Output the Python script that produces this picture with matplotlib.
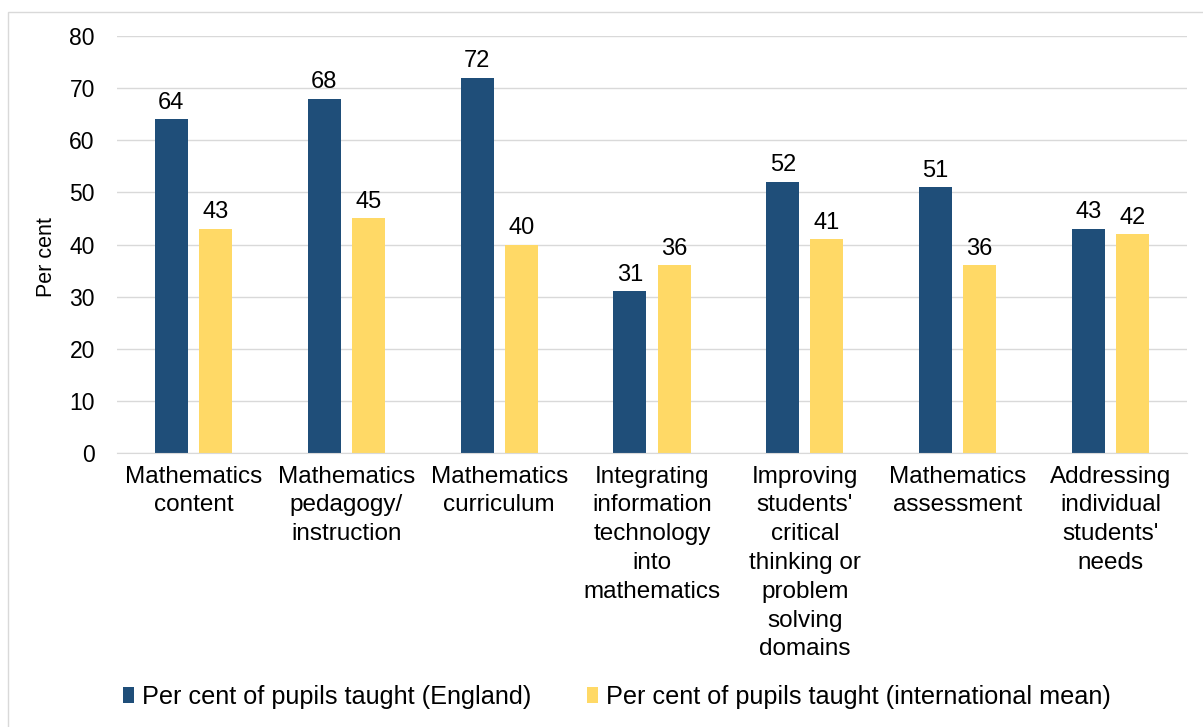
import matplotlib
matplotlib.use("Agg")
import matplotlib.pyplot as plt
import numpy as np
from matplotlib.patches import Rectangle

categories = ["Mathematics\ncontent", "Mathematics\npedagogy/\ninstruction", "Mathematics\ncurriculum",
              "Integrating\ninformation\ntechnology\ninto\nmathematics",
              "Improving\nstudents'\ncritical\nthinking or\nproblem\nsolving\ndomains",
              "Mathematics\nassessment", "Addressing\nindividual\nstudents'\nneeds"]
england = [64, 68, 72, 31, 52, 51, 43]
intl = [43, 45, 40, 36, 41, 36, 42]
series_names = ["Per cent of pupils taught (England)", "Per cent of pupils taught (international mean)"]
yticks = [0, 10, 20, 30, 40, 50, 60, 70, 80]

plt.rcParams['font.family'] = ['Liberation Sans', 'DejaVu Sans']
W, H = 1203, 727
fig = plt.figure(figsize=(W/100, H/100), dpi=100)
ax = fig.add_axes([117/W, 1-453/H, (1187-117)/W, (453-36)/H])

blue = "#1F4E79"
yellow = "#FFD966"
x = np.arange(len(categories))
bw = 0.216
off = 0.144
b1 = ax.bar(x - off, england, bw, color=blue, zorder=3, label=series_names[0])
b2 = ax.bar(x + off, intl, bw, color=yellow, zorder=3, label=series_names[1])
for bars, vals in [(b1, england), (b2, intl)]:
    for r, v in zip(bars, vals):
        ax.annotate(str(v), (r.get_x() + r.get_width()/2, v), xytext=(0, 4),
                    textcoords="offset points", ha="center", va="bottom", fontsize=17, color="#000000")

ax.set_xlim(-0.5, len(categories) - 0.5)
ax.set_ylim(0, 80)
ax.set_yticks(yticks)
ax.tick_params(axis='y', length=0, labelsize=16.5, pad=16)
ax.tick_params(axis='x', length=0, labelsize=17.5, pad=9)
ax.set_xticks(x)
ax.set_xticklabels(categories, linespacing=1.4, va="top")
ax.grid(axis='y', color="#D9D9D9", linewidth=1, zorder=0)
for s in ["top", "right", "left"]:
    ax.spines[s].set_visible(False)
ax.spines["bottom"].set_color("#D9D9D9")
ax.spines["bottom"].set_zorder(4)
ax.set_ylabel("Per cent", fontsize=15.5)
ax.yaxis.set_label_coords(-60/1070, 0.47)

leg = fig.legend(handles=[b1, b2], labels=series_names, loc="center", bbox_to_anchor=(617/W, 1-697/H),
                 ncol=2, frameon=False, fontsize=18.2, handlelength=0.45, handleheight=0.6,
                 handletextpad=0.3, columnspacing=2.2)

fig.patches.append(Rectangle((8/W, -0.1), 1.2, 1 - 12/H + 0.1, transform=fig.transFigure,
                             fill=False, edgecolor="#D9D9D9", linewidth=1))
fig.savefig("out.png", dpi=100)
